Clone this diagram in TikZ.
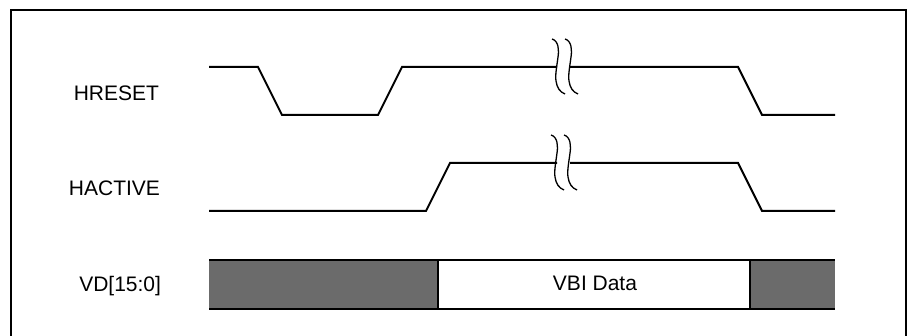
\documentclass[tikz,border=0pt]{standalone}
\usepackage{fontspec}
\setmainfont{Liberation Sans}
\usepackage{tikz}
\newcommand\waveBreak[2]{%
\draw[line width=1.3pt] (#1-5,#2-28) .. controls (#1+2,#2-26) and (#1+2,#2-16) .. (#1+1,#2-10) .. controls (#1,#2-2) and (#1-2,#2+8) .. (#1-1,#2+14) .. controls (#1,#2+21) and (#1+3,#2+25) .. (#1+8,#2+27);
}
\tikzset{sig/.style={anchor=base east, inner sep=0pt, font=\fontsize{21}{24}\selectfont},
  busfill/.style={fill=black!58, draw=none}}
\begin{document}
\begin{tikzpicture}[x=1pt, y=-1pt, line width=2pt]
\useasboundingbox (0,0) rectangle (918,336);
%%%%% Frame %%%%%
\draw (11,345)--(11,10)--(906,10)--(906,345);
%%%%% Labels %%%%%
\node[sig] (hreset) at (160,101) {HRESET};
\node[sig] (hactive) at (161,196) {HACTIVE};
\node[sig] (vd) at (162,292) {VD[15:0]};
%%%%% HRESET %%%%%
\draw (209,67)--(258,67)--(282,115)--(378,115)--(402,67)--(557,67);
\draw (570,67)--(738,67)--(762,115)--(835,115);
\waveBreak{557}{67}
\waveBreak{570}{67}
%%%%% HACTIVE %%%%%
\draw (209,211)--(426,211)--(450,163)--(557,163);
\draw (570,163)--(738,163)--(762,211)--(835,211);
\waveBreak{556}{163}
\waveBreak{569}{163}
%%%%% VD bus %%%%%
\fill[busfill] (209,260) rectangle (438,309);
\fill[busfill] (750,260) rectangle (835,309);
\draw (209,260)--(835,260);
\draw (209,309)--(835,309);
\draw (438,260)--(438,309);
\draw (750,260)--(750,309);
\node[anchor=base, inner sep=0pt, font=\fontsize{21}{24}\selectfont] (vbi) at (595,291) {VBI Data};
\end{tikzpicture}
\end{document}
